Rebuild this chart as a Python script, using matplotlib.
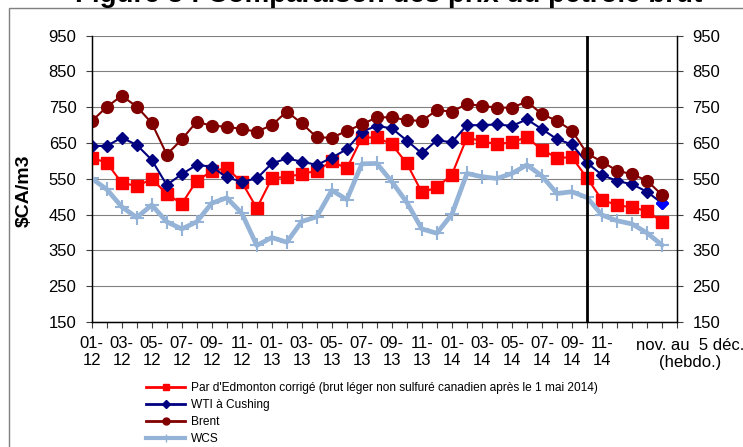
import numpy as np
import matplotlib
matplotlib.use("Agg")
import matplotlib.pyplot as plt
from matplotlib.lines import Line2D
from matplotlib.patches import Rectangle

plt.rcParams["font.family"] = ["Liberation Sans", "DejaVu Sans"]

# monthly Jan 2012 .. Nov 2014, then weekly (Nov - 5 Dec 2014)
month_labels = ["01-12", "03-12", "05-12", "07-12", "09-12", "11-12",
                "01-13", "03-13", "05-13", "07-13", "09-13", "11-13",
                "01-14", "03-14", "05-14", "07-14", "09-14", "11-14"]
weekly_label = "nov. au  5 déc.\n(hebdo.)"

edmonton = [609, 595, 539, 530, 549, 509, 480, 545, 571, 580, 541, 468, 551, 556, 563, 573, 599,
            579, 665, 666, 646, 593, 512, 526, 562, 665, 656, 646, 653, 666, 631, 609, 610, 553,
            491, 477, 470, 460, 430]
wti = [642, 642, 665, 645, 603, 533, 563, 589, 584, 554, 542, 551, 593, 607, 598, 589, 609,
       633, 682, 698, 691, 657, 621, 658, 652, 700, 700, 702, 698, 716, 689, 661, 646, 595,
       561, 544, 535, 514, 482]
brent = [711, 751, 782, 752, 706, 618, 660, 710, 698, 696, 689, 682, 700, 738, 705, 666, 665,
         684, 702, 722, 722, 714, 712, 742, 738, 759, 754, 749, 749, 766, 731, 712, 685, 621,
         598, 573, 563, 545, 505]
wcs = [551, 521, 472, 442, 477, 430, 410, 430, 482, 497, 454, 364, 386, 373, 431, 444, 518,
       492, 592, 593, 542, 484, 410, 398, 451, 565, 556, 551, 565, 589, 558, 509, 514, 498,
       449, 433, 424, 399, 365]
weekly_start = 33

names = ["Par d'Edmonton corrigé (brut léger non sulfuré canadien après le 1 mai 2014)",
         "WTI à Cushing", "Brent", "WCS"]

RED = "#FF0000"
NAVY = "#000080"
MAROON = "#800000"
LIGHT = "#95B3D7"

W, H = 743, 447
fig = plt.figure(figsize=(W / 100, H / 100), dpi=100)
ax = fig.add_axes([91.7 / W, 125 / H, (677 - 91.7) / W, (322 - 35.7) / H])

x = np.arange(len(brent))
ax.plot(x, edmonton, color=RED, lw=1.5, marker="s", ms=8, mec=RED, zorder=3)
ax.plot(x, wti, color=NAVY, lw=1.5, marker="D", ms=6, mec=NAVY, zorder=3)
ax.plot(x[-1:], wti[-1:], ls="none", marker="D", ms=6, color="#0000FF", zorder=3)
ax.plot(x, brent, color=MAROON, lw=1.5, marker="o", ms=8.5, mec=MAROON, zorder=3)
ax.plot(x, wcs, color=LIGHT, lw=3.4, marker="+", ms=10, mew=1.5, zorder=3)
ax.axvline(weekly_start, color="black", lw=2, zorder=4)

ax.set_xlim(0, 39)
ax.set_ylim(150, 950)
yt = np.arange(150, 951, 100)
ax.set_yticks(yt)
ax.yaxis.grid(True, color="#808080", lw=0.8)
ax.set_axisbelow(True)
ax.set_xticks(np.arange(0, 40))
xl = [""] * 40
for i, lab in enumerate(month_labels):
    m, y = lab.split("-")
    xl[2 * i] = m + "-\n" + y
ax.set_xticklabels(xl, fontsize=12, linespacing=1.15)
ax.tick_params(axis="x", direction="out", length=4, pad=6, color="#404040")
ax.tick_params(axis="y", direction="out", length=4, pad=7, labelsize=12, color="#404040")
ax.spines["top"].set_visible(False)
for s in ("left", "bottom", "right"):
    ax.spines[s].set_color("black")
    ax.spines[s].set_linewidth(1)

ax2 = ax.twinx()
ax2.set_ylim(150, 950)
ax2.set_yticks(yt)
ax2.tick_params(axis="y", direction="out", length=4, pad=7, labelsize=12, color="#404040")
ax2.spines["top"].set_visible(False)
ax2.spines["right"].set_color("black")

ax.set_ylabel("$CA/m3", fontsize=14, fontweight="bold")
ax.yaxis.set_label_coords(-0.100, 0.46)

fig.text(690 / W, 1 - 354 / H, weekly_label, ha="center", va="center",
         fontsize=12, linespacing=1.15)

handles = [
    Line2D([], [], color=RED, lw=2, marker="s", ms=5, mec=RED),
    Line2D([], [], color=NAVY, lw=2, marker="D", ms=4, mec=NAVY),
    Line2D([], [], color=MAROON, lw=2, marker="o", ms=5, mec=MAROON),
    Line2D([], [], color=LIGHT, lw=3, marker="+", ms=6, mew=1),
]
fig.legend(handles, names, loc="upper left", bbox_to_anchor=(140 / W, 1 - 376 / H),
           frameon=False, prop={"size": 8.6},
           handlelength=3.3, handletextpad=0.45, labelspacing=0.42, borderpad=0)

# chart frame and title cut off at the top of the image
fig.patches.append(Rectangle((9 / W, -0.05), 1.1, (H - 8) / H + 0.05, transform=fig.transFigure,
                             fill=False, ec="#7f7f7f", lw=1))
fig.text(75 / W, 1 - 1.5 / H, "Figure 3 : Comparaison des prix du pétrole brut",
         ha="left", va="baseline", fontsize=20, fontweight="bold")

fig.savefig("out.png", dpi=100)
